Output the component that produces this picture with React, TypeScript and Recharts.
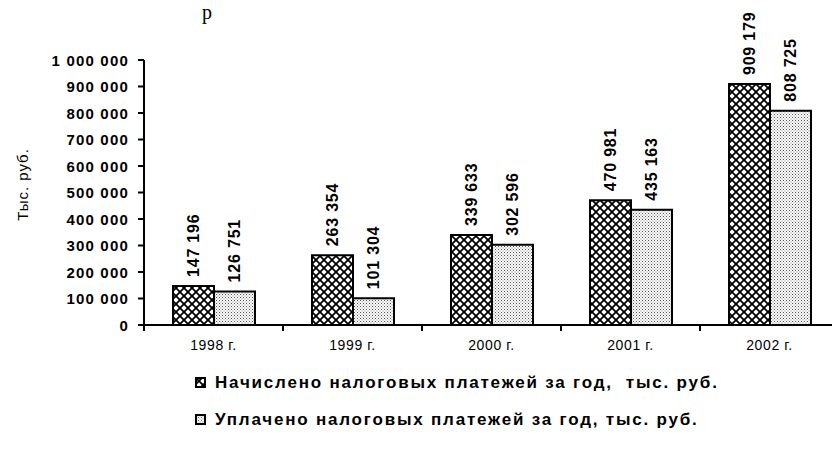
import React from 'react';
import { Bar, BarChart, LabelList, Legend, XAxis, YAxis } from 'recharts';

// values
const years = ['1998 г.', '1999 г.', '2000 г.', '2001 г.', '2002 г.'];
const accrued = [147196, 263354, 339633, 470981, 909179];
const paid = [126751, 101304, 302596, 435163, 808725];
const yTicks = [0, 100000, 200000, 300000, 400000, 500000, 600000, 700000, 800000, 900000, 1000000];
const seriesNames = [
  'Начислено налоговых платежей за год,  тыс. руб.',
  'Уплачено налоговых платежей за год, тыс. руб.',
];
const yTitle = 'Тыс. руб.';

const data = years.map((year, i) => ({ year, accrued: accrued[i], paid: paid[i] }));

const FONT = '"Liberation Sans", Arial, sans-serif';
const fmt = (n: number) => String(n).replace(/\B(?=(\d{3})+(?!\d))/g, ' ');

const YTick = (props: any) => {
  const { x, y, payload } = props;
  return (
    <text x={x} y={y} textAnchor="end" dominantBaseline="central" fontFamily={FONT} fontWeight="bold" fontSize={15} letterSpacing={1.2} fill="#000">
      {fmt(payload.value)}
    </text>
  );
};

// category ticks sit on the band edges, labels in the middle
const XTick = (props: any) => {
  const { x, y, payload } = props;
  const edge = x - (payload.offset ?? 0);
  return (
    <g>
      <line x1={edge} x2={edge} y1={y} y2={y + 6} stroke="#000" strokeWidth={2} />
      <text x={x} y={y + 25} textAnchor="middle" fontFamily={FONT} fontSize={14} letterSpacing={0.6} fill="#000">
        {payload.value}
      </text>
    </g>
  );
};

const ValueLabel = (props: any) => {
  const { x, y, width, value } = props;
  const cx = x + width / 2;
  const ty = y - 9;
  return (
    <text
      x={cx}
      y={ty}
      transform={`rotate(-90 ${cx} ${ty})`}
      textAnchor="start"
      dominantBaseline="central"
      fontFamily={FONT}
      fontWeight="bold"
      fontSize={16}
      letterSpacing={0.8}
      fill="#000"
    >
      {fmt(value)}
    </text>
  );
};

const YTitle = (props: any) => {
  const { viewBox } = props;
  const cx = 22;
  const cy = viewBox.y + viewBox.height / 2 - 8;
  return (
    <text x={cx} y={cy} transform={`rotate(-90 ${cx} ${cy})`} textAnchor="middle" dominantBaseline="central" fontFamily={FONT} fontSize={15} letterSpacing={1} fill="#000">
      {yTitle}
    </text>
  );
};

const fills = ['url(#cross)', 'url(#dots)'];

const renderLegend = () => (
  <div style={{ height: 74, paddingLeft: 195, fontFamily: FONT, fontWeight: 'bold', fontSize: 17, letterSpacing: 1.8, color: '#000' }}>
    {seriesNames.map((name, i) => (
      <div key={name} style={{ height: 37, display: 'flex', alignItems: 'center', whiteSpace: 'pre' }}>
        <svg width={11} height={11} style={{ marginRight: 9 }}>
          <rect x={1} y={1} width={9} height={9} fill={fills[i]} stroke="#000" strokeWidth={2} />
        </svg>
        {name}
      </div>
    ))}
  </div>
);

export default function App() {
  return (
    <div style={{ position: 'absolute', left: 0, top: 0, width: 832, height: 450, overflow: 'hidden', background: '#fff' }}>
      <svg width={832} height={28} style={{ position: 'absolute', left: 0, top: 0 }}>
        <text x={202} y={19} fontFamily='"Liberation Serif", serif' fontSize={20} fill="#000">р</text>
      </svg>
      <BarChart width={850} height={450} data={data} margin={{ top: 60, right: 11, bottom: 12, left: 0 }} barGap={0} barSize={41}>
        <defs>
          <pattern id="cross" width={8} height={8} patternUnits="userSpaceOnUse">
            <rect width={8} height={8} fill="#fff" />
            <path d="M-1,-1 L9,9 M9,-1 L-1,9" stroke="#000" strokeWidth={1.8} />
          </pattern>
          <pattern id="dots" width={3} height={3} patternUnits="userSpaceOnUse">
            <rect width={3} height={3} fill="#fff" />
            <rect x={0} y={0} width={1} height={1} fill="#555" />
            <rect x={1.5} y={1.5} width={1} height={1} fill="#777" />
          </pattern>
        </defs>
        <XAxis
          dataKey="year"
          height={39}
          tickLine={false}
          tickSize={0}
          tickMargin={0}
          axisLine={{ stroke: '#000', strokeWidth: 2 }}
          tick={<XTick />}
          interval={0}
        />
        <YAxis
          width={144}
          domain={[0, 1000000]}
          ticks={yTicks}
          interval={0}
          tickSize={6}
          tickMargin={9}
          tickLine={{ stroke: '#000', strokeWidth: 2 }}
          axisLine={{ stroke: '#000', strokeWidth: 2 }}
          tick={<YTick />}
          label={<YTitle />}
        />
        <Legend verticalAlign="bottom" align="left" content={renderLegend} />
        <Bar dataKey="accrued" name={seriesNames[0]} fill="url(#cross)" stroke="#000" strokeWidth={2} isAnimationActive={false}>
          <LabelList dataKey="accrued" content={<ValueLabel />} />
        </Bar>
        <Bar dataKey="paid" name={seriesNames[1]} fill="url(#dots)" stroke="#000" strokeWidth={2} isAnimationActive={false}>
          <LabelList dataKey="paid" content={<ValueLabel />} />
        </Bar>
      </BarChart>
    </div>
  );
}
